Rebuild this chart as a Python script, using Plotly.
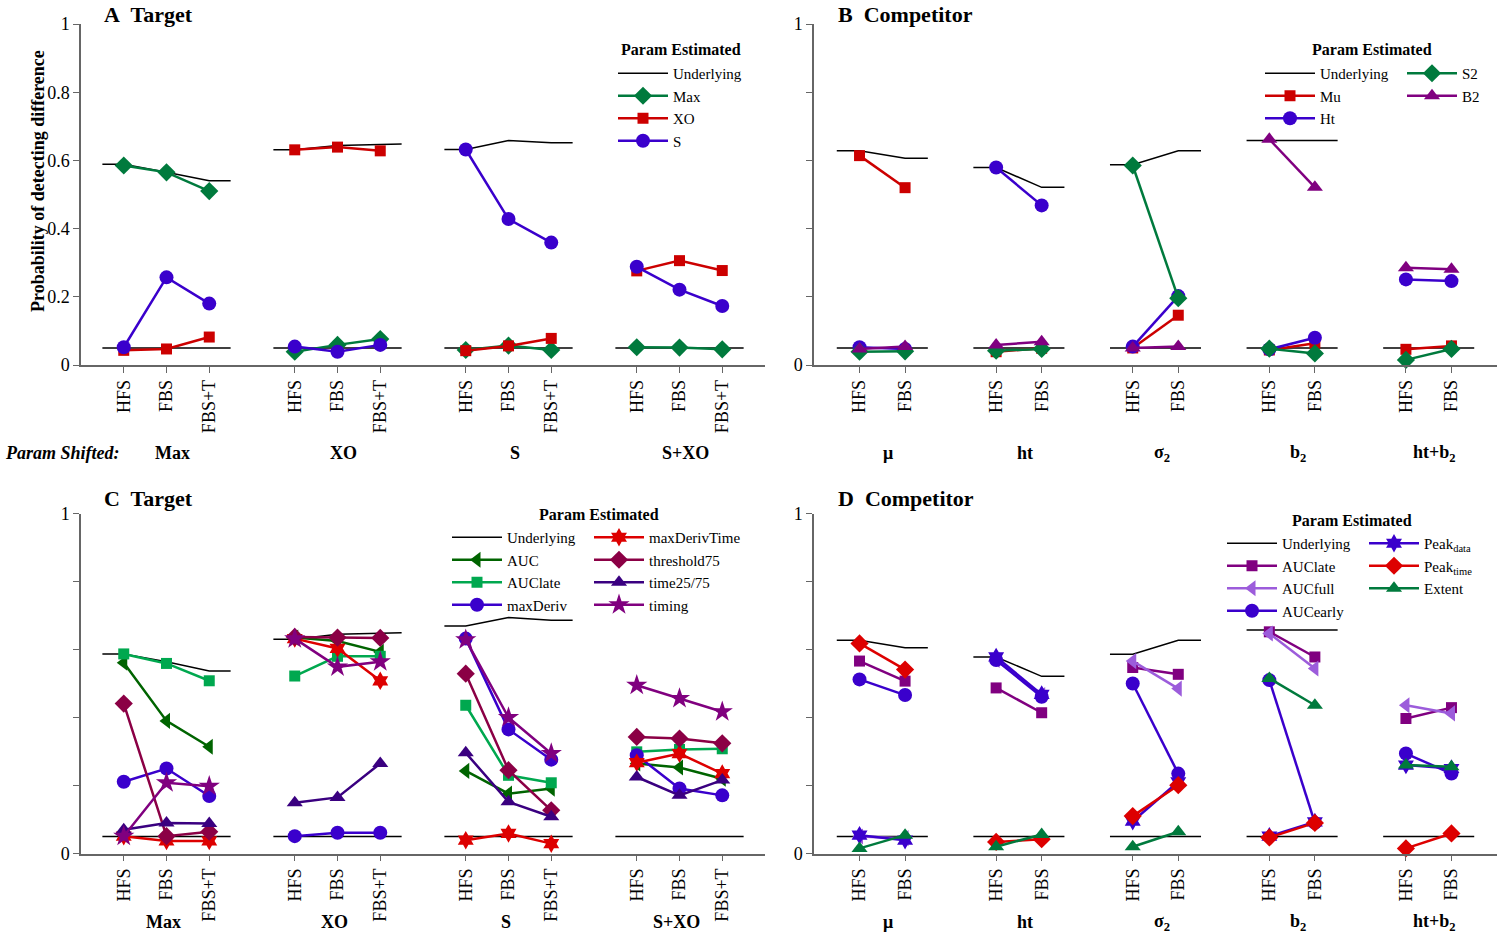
import plotly.graph_objects as go

FONT = "Liberation Serif"
W, H = 1500, 935

# ---------------- data ----------------
# Panel A (Target, 3 params estimated)
A_groups = ["Max", "XO", "S", "S+XO"]
A_conds = ["HFS", "FBS", "FBS+T"]
A_under = [[0.589, 0.565, 0.54], [0.631, 0.644, 0.648], [0.632, 0.658, 0.652], None]
A_null = 0.05
A_Max = [0.585, 0.565, 0.51, 0.039, 0.059, 0.076, 0.044, 0.057, 0.044, 0.052, 0.051, 0.046]
A_XO = [0.043, 0.047, 0.082, 0.631, 0.639, 0.628, 0.042, 0.056, 0.078, 0.276, 0.306, 0.277]
A_S = [0.052, 0.257, 0.18, 0.054, 0.039, 0.059, 0.632, 0.428, 0.359, 0.288, 0.221, 0.173]

# Panel B (Competitor)
B_groups = ["<b>μ</b>", "<b>ht</b>", "<b>σ<sub>2</sub></b>", "<b>b<sub>2</sub></b>", "<b>ht+b<sub>2</sub></b>"]
B_conds = ["HFS", "FBS"]
B_under = [[0.628, 0.606], [0.579, 0.521], [0.587, 0.628], [0.658, 0.658], None]
B_null = 0.05
B_Mu = [0.614, 0.52, 0.039, 0.049, 0.05, 0.146, 0.044, 0.064, 0.046, 0.056]
B_Ht = [0.052, 0.047, 0.579, 0.468, 0.054, 0.202, 0.046, 0.08, 0.251, 0.246]
B_S2 = [0.039, 0.04, 0.042, 0.047, 0.585, 0.196, 0.048, 0.034, 0.015, 0.047]
B_B2 = [0.047, 0.054, 0.059, 0.068, 0.05, 0.054, 0.662, 0.521, 0.285, 0.281]

# Panel C (Target, descriptive measures)
C_groups = ["Max", "XO", "S", "S+XO"]
C_conds = ["HFS", "FBS", "FBS+T"]
C_under = [[0.587, 0.564, 0.537], [0.63, 0.645, 0.649], [0.669, 0.694, 0.686], None]
C_null = 0.05
C_AUC = [0.561, 0.39, 0.314, 0.635, 0.625, 0.593, 0.243, 0.176, 0.191, 0.265, 0.253, 0.22]
C_AUClate = [0.587, 0.559, 0.508, 0.522, 0.58, 0.58, 0.436, 0.23, 0.208, 0.299, 0.306, 0.308]
C_maxDeriv = [0.211, 0.25, 0.169, 0.051, 0.061, 0.061, 0.632, 0.365, 0.276, 0.289, 0.191, 0.171]
C_maxDerivTime = [0.051, 0.037, 0.037, 0.632, 0.603, 0.508, 0.039, 0.059, 0.029, 0.267, 0.294, 0.235]
C_threshold75 = [0.441, 0.051, 0.064, 0.637, 0.635, 0.634, 0.529, 0.245, 0.127, 0.343, 0.338, 0.324]
C_time2575 = [0.07, 0.09, 0.088, 0.149, 0.165, 0.265, 0.296, 0.152, 0.108, 0.225, 0.171, 0.216]
C_timing = [0.051, 0.208, 0.198, 0.632, 0.549, 0.564, 0.629, 0.4, 0.294, 0.495, 0.456, 0.417]

# Panel D (Competitor, descriptive measures)
D_groups = B_groups
D_conds = ["HFS", "FBS"]
D_under = [[0.627, 0.605], [0.578, 0.521], [0.586, 0.627], [0.657, 0.657], None]
D_null = 0.05
D_AUClate = [0.566, 0.507, 0.487, 0.414, 0.547, 0.527, 0.652, 0.578, 0.397, 0.429]
D_AUCfull = [0.05, 0.045, 0.569, 0.466, 0.566, 0.485, 0.647, 0.544, 0.436, 0.412]
D_AUCearly = [0.512, 0.466, 0.569, 0.461, 0.5, 0.235, 0.51, 0.09, 0.294, 0.235]
D_Peakdata = [0.054, 0.039, 0.578, 0.468, 0.095, 0.211, 0.051, 0.093, 0.26, 0.25]
D_Peaktime = [0.618, 0.541, 0.034, 0.042, 0.11, 0.201, 0.047, 0.09, 0.015, 0.059]
D_Extent = [0.015, 0.054, 0.02, 0.056, 0.02, 0.064, 0.515, 0.436, 0.26, 0.255]

Y_TICKS_FULL = [0, 0.2, 0.4, 0.6, 0.8, 1]
Y_TICKTEXT_FULL = ["0", "0.2", "0.4", "0.6", "0.8", "1"]
Y_TICKS_ENDS = [0, 1]
Y_TICKTEXT_ENDS = ["0", "1"]
Y_MINOR = [0.2, 0.4, 0.6, 0.8]

# ---------------- colours ----------------
GREEN = "#007A3D"
RED = "#CC0000"
BLUE = "#3A00CC"
PURPLE = "#800080"


def positions(n_groups, n_conds):
    return [[g * (n_conds + 1) + i for i in range(n_conds)] for g in range(n_groups)]


def series_xy(vals, pos):
    xs, ys = [], []
    n = len(pos[0])
    for g, p in enumerate(pos):
        xs += p + [None]
        ys += vals[g * n:(g + 1) * n] + [None]
    return xs, ys


def underlying_xy(under, null, pos):
    xs, ys = [], []
    for g, p in enumerate(pos):
        xs += [p[0] - 0.5, p[-1] + 0.5, None]
        ys += [null, null, None]
        if under[g] is not None:
            u = under[g]
            xs += [p[0] - 0.5] + p + [p[-1] + 0.5, None]
            ys += [u[0]] + u + [u[-1], None]
    return xs, ys


fig = go.Figure()


def add_panel(xa, ya, groups, conds, under, null, series, leg_under):
    pos = positions(len(groups), len(conds))
    ux, uy = underlying_xy(under, null, pos)
    fig.add_trace(go.Scatter(x=ux, y=uy, mode="lines", name="Underlying",
                             line=dict(color="black", width=1.5),
                             xaxis=xa, yaxis=ya, legend=leg_under,
                             cliponaxis=False, hoverinfo="skip"))
    for name, vals, color, sym, size, leg in series:
        sx, sy = series_xy(vals, pos)
        fig.add_trace(go.Scatter(x=sx, y=sy, mode="lines+markers", name=name,
                                 line=dict(color=color, width=2.5),
                                 marker=dict(color=color, symbol=sym, size=size,
                                             line=dict(width=0)),
                                 xaxis=xa, yaxis=ya, legend=leg, cliponaxis=False))
    return pos


posA = add_panel("x", "y", A_groups, A_conds, A_under, A_null, [
    ("Max", A_Max, GREEN, "diamond", 14, "legend"),
    ("XO", A_XO, RED, "square", 11, "legend"),
    ("S", A_S, BLUE, "circle", 14, "legend"),
], "legend")

posB = add_panel("x2", "y2", B_groups, B_conds, B_under, B_null, [
    ("Mu", B_Mu, RED, "square", 11, "legend2"),
    ("Ht", B_Ht, BLUE, "circle", 14, "legend2"),
    ("S2", B_S2, GREEN, "diamond", 14, "legend3"),
    ("B2", B_B2, PURPLE, "triangle-up", 14, "legend3"),
], "legend2")

posC = add_panel("x3", "y3", C_groups, C_conds, C_under, C_null, [
    ("AUC", C_AUC, "#006400", "triangle-left", 14, "legend4"),
    ("AUClate", C_AUClate, "#00A84F", "square", 11, "legend4"),
    ("maxDeriv", C_maxDeriv, BLUE, "circle", 14, "legend4"),
    ("maxDerivTime", C_maxDerivTime, "#DD0000", "hexagram", 14, "legend5"),
    ("threshold75", C_threshold75, "#8B0045", "diamond", 14, "legend5"),
    ("time25/75", C_time2575, "#3A0080", "triangle-up", 14, "legend5"),
    ("timing", C_timing, "#80007F", "star", 16, "legend5"),
], "legend4")

posD = add_panel("x4", "y4", D_groups, D_conds, D_under, D_null, [
    ("AUClate", D_AUClate, PURPLE, "square", 11, "legend6"),
    ("AUCfull", D_AUCfull, "#9C5CDB", "triangle-left", 14, "legend6"),
    ("AUCearly", D_AUCearly, BLUE, "circle", 14, "legend6"),
    ("Peak<sub>data</sub>", D_Peakdata, BLUE, "hexagram", 14, "legend7"),
    ("Peak<sub>time</sub>", D_Peaktime, "#DD0000", "diamond", 14, "legend7"),
    ("Extent", D_Extent, GREEN, "triangle-up", 14, "legend7"),
], "legend6")


# ---------------- axes ----------------
def px_x(p):
    return p / W


def px_y(p):
    return 1 - p / H


AXC = "#666666"
TICKFONT = dict(family=FONT, size=18, color="black")


def xaxis(dom, rng, pos, conds, anchor):
    vals = [v for p in pos for v in p]
    text = [conds[i] for p in pos for i in range(len(p))]
    return dict(domain=dom, range=rng, anchor=anchor, showline=True, linecolor=AXC,
                linewidth=1.5, ticks="outside", ticklen=6, tickwidth=1.2, tickcolor=AXC,
                tickmode="array", tickvals=vals, ticktext=text, tickangle=-90,
                tickfont=TICKFONT, showgrid=False, zeroline=False, fixedrange=True,
                automargin=False)


def yaxis(dom, anchor, tickvals, ticktext):
    d = dict(domain=dom, range=[0, 1], anchor=anchor, showline=True, linecolor=AXC,
             linewidth=1.5, ticks="outside", ticklen=6, tickwidth=1.2, tickcolor=AXC,
             tickmode="array", tickvals=tickvals, ticktext=ticktext,
             tickfont=TICKFONT, showgrid=False, zeroline=False, fixedrange=True,
             automargin=False)
    if len(tickvals) < len(Y_TICKS_FULL):
        d["minor"] = dict(tickmode="array", tickvals=Y_MINOR, ticks="outside", ticklen=6,
                          tickwidth=1.2, tickcolor=AXC, showgrid=False)
    return d


XL = [px_x(81), px_x(765)]
XR = [px_x(814), px_x(1497)]
YT = [px_y(365), px_y(24)]
YB = [px_y(853.5), px_y(513.5)]

legend_common = dict(bgcolor="rgba(0,0,0,0)", borderwidth=0, itemwidth=50,
                     font=dict(family=FONT, size=15, color="black"),
                     orientation="v", xanchor="left", yanchor="top",
                     xref="paper", yref="paper", tracegroupgap=0, traceorder="normal")


def leg(x_text_px, top_px):
    d = dict(legend_common)
    d["x"] = px_x(x_text_px - 60)
    d["y"] = px_y(top_px)
    return d


annotations = []


def ann(text, xpx, ypx, size, xanchor="center", angle=0):
    annotations.append(dict(text=text, x=px_x(xpx), y=px_y(ypx), xref="paper", yref="paper",
                            showarrow=False, xanchor=xanchor, yanchor="middle",
                            textangle=angle, borderpad=0,
                            font=dict(family=FONT, size=size, color="black")))


def group_labels(groups, pos, xref, ypx, shift, bold=True):
    for g, p in enumerate(pos):
        t = groups[g]
        if bold and not t.startswith("<b>"):
            t = "<b>" + t + "</b>"
        annotations.append(dict(text=t, x=(p[0] + p[-1]) / 2, y=px_y(ypx), xref=xref,
                                yref="paper", showarrow=False, xanchor="center",
                                yanchor="middle", xshift=shift, borderpad=0,
                                font=dict(family=FONT, size=18, color="black")))


# panel titles
ann("<b>A\u00a0 Target</b>", 103, 14.5, 22, xanchor="left")
ann("<b>B\u00a0 Competitor</b>", 837, 14.5, 22, xanchor="left")
ann("<b>C\u00a0 Target</b>", 103, 498, 22, xanchor="left")
ann("<b>D\u00a0 Competitor</b>", 837, 498, 22, xanchor="left")

# y axis title
ann("<b>Probability of detecting difference</b>", 38, 181, 18, angle=-90)

# legend titles
ann("<b>Param Estimated</b>", 681, 50, 16)
ann("<b>Param Estimated</b>", 1372, 50, 16)
ann("<b>Param Estimated</b>", 599, 514, 16)
ann("<b>Param Estimated</b>", 1352, 520, 16)

# param shifted
ann("<b><i>Param Shifted:</i></b>", 62, 453, 18)
group_labels(A_groups, posA, "x", 453, 6)
group_labels(B_groups, posB, "x2", 453, 6)
group_labels(C_groups, posC, "x3", 922, -3)
group_labels(D_groups, posD, "x4", 922, 6)

fig.update_layout(
    template="none",
    width=W, height=H, autosize=False,
    margin=dict(l=0, r=0, t=0, b=0, pad=0),
    paper_bgcolor="white", plot_bgcolor="white",
    font=dict(family=FONT, color="black"),
    xaxis=xaxis(XL, [-1, 15], posA, A_conds, "y"),
    yaxis=yaxis(YT, "x", Y_TICKS_FULL, Y_TICKTEXT_FULL),
    xaxis2=xaxis(XR, [-1, 14], posB, B_conds, "y2"),
    yaxis2=yaxis(YT, "x2", Y_TICKS_ENDS, Y_TICKTEXT_ENDS),
    xaxis3=xaxis(XL, [-1, 15], posC, C_conds, "y3"),
    yaxis3=yaxis(YB, "x3", Y_TICKS_ENDS, Y_TICKTEXT_ENDS),
    xaxis4=xaxis(XR, [-1, 14], posD, D_conds, "y4"),
    yaxis4=yaxis(YB, "x4", Y_TICKS_ENDS, Y_TICKTEXT_ENDS),
    legend=leg(673, 57),
    legend2=leg(1320, 57),
    legend3=leg(1462, 57),
    legend4=leg(507, 521),
    legend5=leg(649, 521),
    legend6=leg(1282, 527),
    legend7=leg(1424, 527),
    annotations=annotations,
    showlegend=True,
)

fig.write_html("out.html",
               config={"displayModeBar": False},
               post_script="document.body.style.margin='0px';"
                           "document.body.style.padding='0px';"
                           "document.body.style.overflow='hidden';")
